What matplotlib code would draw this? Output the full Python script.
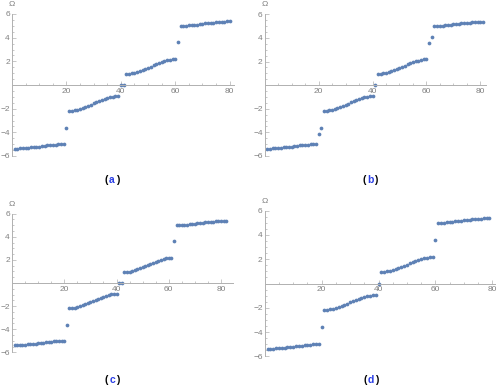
import matplotlib

matplotlib.use("Agg")
import matplotlib.pyplot as plt
import numpy as np

plt.rcParams["font.family"] = ["Liberation Sans", "DejaVu Sans"]

W, H = 498, 386
DOT = "#5e81b5"
GREY = "#808080"
AXIS = "#b0b0b0"

# outer bands (19 sites)
band_low = [-5.38, -5.37, -5.36, -5.35, -5.33, -5.30, -5.28, -5.25, -5.23, -5.20,
            -5.17, -5.14, -5.11, -5.09, -5.06, -5.04, -5.02, -5.01, -5.00]
band_high = [5.00, 5.01, 5.02, 5.04, 5.06, 5.09, 5.11, 5.14, 5.17, 5.20,
             5.23, 5.25, 5.28, 5.30, 5.33, 5.35, 5.36, 5.37, 5.38]
# outer bands (20 sites, panel c)
band_low20 = [-5.38, -5.37, -5.36, -5.35, -5.33, -5.31, -5.29, -5.27, -5.24, -5.22,
              -5.19, -5.16, -5.14, -5.11, -5.08, -5.06, -5.04, -5.02, -5.01, -5.00]
band_high20 = [5.00, 5.01, 5.02, 5.04, 5.06, 5.08, 5.11, 5.14, 5.16, 5.19,
               5.22, 5.24, 5.27, 5.29, 5.31, 5.33, 5.35, 5.36, 5.37, 5.38]
# inner bands
band_mid_low = [-2.20, -2.18, -2.14, -2.08, -2.02, -1.94, -1.85, -1.76, -1.66, -1.56,
                -1.46, -1.36, -1.27, -1.18, -1.11, -1.04, -0.99, -0.95, -0.93]
band_mid_high = [0.93, 0.95, 0.99, 1.04, 1.11, 1.18, 1.27, 1.36, 1.46, 1.56,
                 1.66, 1.76, 1.85, 1.94, 2.02, 2.08, 2.14, 2.18, 2.20]

# in-gap states of each panel
gap_a_low, gap_a_zero, gap_a_high = [-3.6], [0.0, 0.0], [3.6]
gap_b_low, gap_b_zero, gap_b_high = [-4.1, -3.6], [0.0], [3.6, 4.1]
gap_c_low, gap_c_zero, gap_c_high = [-3.6], [0.0, 0.0], [3.6]
gap_d_low, gap_d_zero, gap_d_high = [-3.6], [0.0], [3.6]

omega_a = band_low + gap_a_low + band_mid_low + gap_a_zero + band_mid_high + gap_a_high + band_high
omega_b = band_low + gap_b_low + band_mid_low + gap_b_zero + band_mid_high + gap_b_high + band_high
omega_c = band_low20 + gap_c_low + band_mid_low + gap_c_zero + band_mid_high + gap_c_high + band_high20
omega_d = band_low + gap_d_low + band_mid_low + gap_d_zero + band_mid_high + gap_d_high + band_high

letters = ["a", "b", "c", "d"]
series = [omega_a, omega_b, omega_c, omega_d]

# pixel layout: x of origin, x of tick 80, right end (data), y of +6, y of -6, label centre
LAYOUT = [
    (12.0, 229.7, 81.4, 14.0, 156.0, (112, 180)),
    (264.7, 480.3, 82.1, 14.3, 156.0, (370, 180)),
    (12.0, 221.0, 84.5, 213.7, 352.3, (112, 380)),
    (264.7, 492.3, 80.8, 210.7, 356.3, (371, 380)),
]


def panel(fig, vals, letter, lay):
    x0, x80, xmax, ytop, ybot, (lx, ly) = lay
    ppu = (x80 - x0) / 80.0
    right = x0 + xmax * ppu
    ax = fig.add_axes([x0 / W, 1 - ybot / H, (right - x0) / W, (ybot - ytop) / H])
    n = np.arange(1, len(vals) + 1)
    ax.plot(n, vals, "o", color=DOT, ms=2.7, mew=0, clip_on=False)
    ax.set_xlim(0, xmax)
    ax.set_ylim(-6, 6)
    ax.patch.set_alpha(0)
    for s in ("top", "right"):
        ax.spines[s].set_visible(False)
    ax.spines["bottom"].set_position("zero")
    for s in ("left", "bottom"):
        ax.spines[s].set_color(AXIS)
        ax.spines[s].set_linewidth(0.7)
    ax.set_xticks([20, 40, 60, 80])
    ax.set_xticks(np.arange(5, xmax, 5), minor=True)
    ax.set_yticks([-6, -4, -2, 2, 4, 6])
    ax.set_yticks(np.arange(-6, 6.01, 0.5), minor=True)
    ax.set_yticklabels(["\u22126", "\u22124", "\u22122", "2", "4", "6"])
    ax.tick_params(which="both", direction="in", colors=AXIS, labelcolor=GREY,
                   labelsize=6, width=0.5)
    ax.tick_params(axis="y", pad=1.5)
    ax.tick_params(axis="x", pad=2)
    ax.tick_params(which="major", length=3)
    ax.tick_params(which="minor", length=1.5)
    fig.text(x0 / W, 1 - (ytop - 9.5) / H, "\u03a9", ha="center", va="center",
             fontsize=6, color=GREY)
    fig.text((lx - 6) / W, 1 - ly / H, "(", ha="center", va="center", fontsize=7.5,
             fontweight="bold", color="black")
    fig.text(lx / W, 1 - ly / H, letter, ha="center", va="center", fontsize=7.5,
             fontweight="bold", color="#2a3ee6")
    fig.text((lx + 6) / W, 1 - ly / H, ")", ha="center", va="center", fontsize=7.5,
             fontweight="bold", color="black")


fig = plt.figure(figsize=(W / 100, H / 100), dpi=100)
for vals, letter, lay in zip(series, letters, LAYOUT):
    panel(fig, vals, letter, lay)
fig.savefig("out.png", dpi=100)
